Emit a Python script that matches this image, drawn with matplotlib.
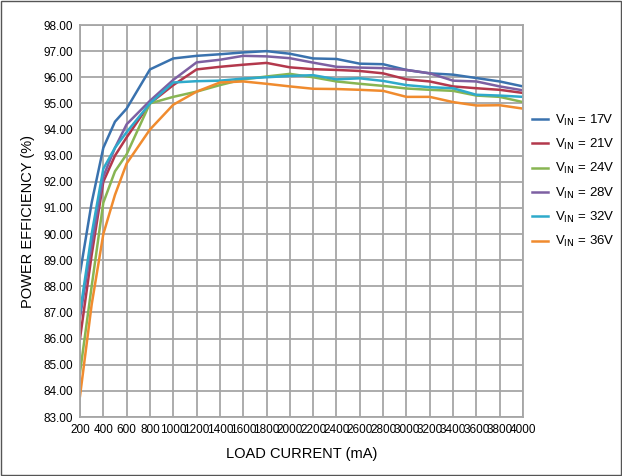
import matplotlib
matplotlib.use("Agg")
import matplotlib.pyplot as plt

load_ma = [200, 300, 400, 500, 600, 800, 1000, 1200, 1400, 1600, 1800, 2000, 2200, 2400, 2600, 2800, 3000, 3200, 3400, 3600, 3800, 4000]
eff_17 = [88.5, 91.2, 93.3, 94.3, 94.8, 96.3, 96.72, 96.82, 96.88, 96.95, 97.0, 96.9, 96.72, 96.7, 96.52, 96.5, 96.28, 96.15, 96.1, 95.97, 95.84, 95.65]
eff_21 = [86.0, 89.2, 92.0, 93.0, 93.7, 95.0, 95.7, 96.3, 96.4, 96.48, 96.55, 96.38, 96.31, 96.28, 96.24, 96.15, 95.92, 95.84, 95.65, 95.58, 95.52, 95.4]
eff_24 = [84.7, 88.0, 91.2, 92.4, 93.05, 95.0, 95.25, 95.45, 95.7, 95.92, 96.03, 96.13, 96.0, 95.84, 95.75, 95.67, 95.57, 95.52, 95.48, 95.3, 95.25, 95.05]
eff_28 = [86.8, 89.6, 92.2, 93.3, 94.2, 95.1, 95.9, 96.57, 96.67, 96.82, 96.8, 96.73, 96.56, 96.4, 96.37, 96.35, 96.28, 96.15, 95.87, 95.84, 95.65, 95.5]
eff_32 = [87.0, 90.0, 92.5, 93.3, 93.9, 95.0, 95.8, 95.85, 95.87, 95.95, 96.0, 96.05, 96.08, 95.92, 95.96, 95.86, 95.7, 95.62, 95.58, 95.33, 95.3, 95.25]
eff_36 = [83.8, 87.3, 90.0, 91.5, 92.7, 94.0, 94.95, 95.45, 95.8, 95.84, 95.75, 95.65, 95.56, 95.55, 95.52, 95.48, 95.25, 95.25, 95.05, 94.92, 94.93, 94.8]
labels = ["17V", "21V", "24V", "28V", "32V", "36V"]
series = [eff_17, eff_21, eff_24, eff_28, eff_32, eff_36]
colors = ["#3a72ae", "#b3384c", "#88b552", "#7d60a2", "#2eaacb", "#f08b2e"]
xticks = list(range(200, 4001, 200))
yticks = [83 + i for i in range(16)]

plt.rcParams["font.family"] = ["Liberation Sans Narrow", "Liberation Sans", "DejaVu Sans"]
fig = plt.figure(figsize=(6.22, 4.76), dpi=100)
fig.patches.append(plt.Rectangle((0.002, 0.002), 0.996, 0.996, transform=fig.transFigure,
                                 fill=False, edgecolor="#555555", lw=1))
ax = fig.add_axes([80/622, 1-417/476, 443/622, 392/476])
for s, lab, c in zip(series, labels, colors):
    ax.plot(load_ma, s, color=c, lw=1.8, label=r"V$_{\mathrm{IN}}$ = " + lab)
ax.set_xlim(200, 4000)
ax.set_ylim(83, 98)
ax.set_xticks(xticks)
ax.set_yticks(yticks)
ax.set_yticklabels([f"{v:.2f}" for v in yticks])
ax.tick_params(labelsize=8.5, length=0, pad=5)
ax.grid(True, color="#a6a6a6", lw=1.3)
for sp in ax.spines.values():
    sp.set_color("#a6a6a6"); sp.set_linewidth(1.3)
ax.set_xlabel("LOAD CURRENT (mA)", fontsize=10.5, labelpad=8)
ax.set_ylabel("POWER EFFICIENCY (%)", fontsize=10.5, labelpad=6)
ax.legend(loc="upper left", bbox_to_anchor=(1.0, 0.8), frameon=False, fontsize=9.5,
          handlelength=1.2, labelspacing=0.7, handletextpad=0.5, borderaxespad=0.3)
fig.savefig("out.png", dpi=100)
